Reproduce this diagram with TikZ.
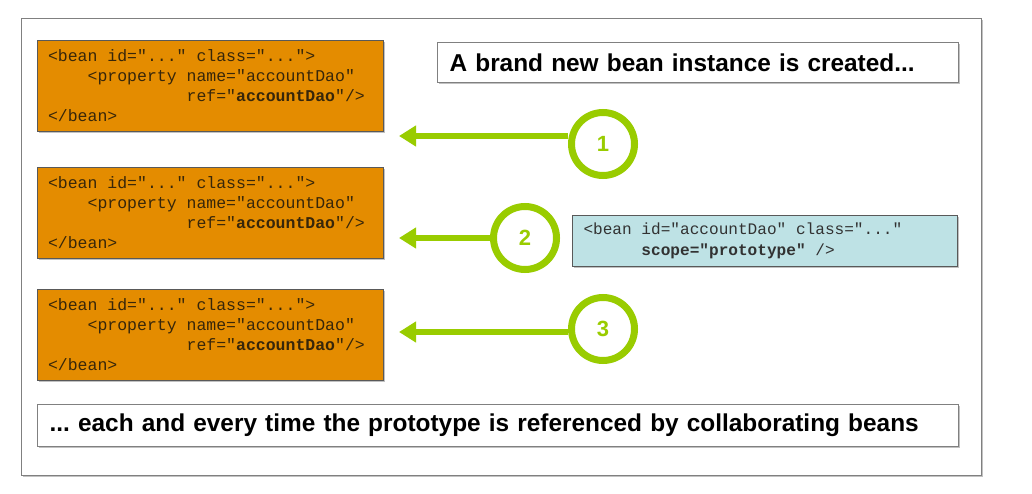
\documentclass[tikz,border=0pt]{standalone}
\usepackage{fontspec}
\setmainfont{Liberation Sans}
\newfontfamily\codefont{Liberation Mono}
\usetikzlibrary{arrows.meta,shadows}
\definecolor{beangreen}{RGB}{153,204,0}
\definecolor{beanorange}{RGB}{228,140,0}
\definecolor{beanblue}{RGB}{190,226,229}
\definecolor{codetext}{RGB}{55,38,10}
\definecolor{bluetext}{RGB}{50,50,50}
\definecolor{framegray}{RGB}{128,128,128}
\protected\def\cind#1{\hspace*{#1\dimexpr 0.6em\relax}}
\protected\def\csp{\hspace*{0.6em}}
\frenchspacing
\begin{document}
\begin{tikzpicture}[x=1pt,y=-1pt,
  shad/.style={drop shadow={shadow xshift=1.5pt,shadow yshift=-1.5pt,opacity=0.4,fill=black!60}},
  codebox/.style={draw=black!65, line width=1pt, fill=beanorange, shad, anchor=north west,
    text width=325pt, inner xsep=10.5pt, inner ysep=0pt, minimum height=91pt, align=left,
    text=codetext, font=\codefont\fontsize{16.5}{20}\selectfont},
  scopebox/.style={draw=black!65, line width=1pt, fill=beanblue, shad, anchor=north west,
    text width=363pt, inner xsep=11pt, inner ysep=0pt, minimum height=51pt, align=left,
    text=bluetext, font=\codefont\fontsize{16.1}{21}\selectfont},
  notebox/.style={draw=framegray, line width=1.2pt, fill=white, shad, anchor=north west,
    inner xsep=12pt, inner ysep=0pt, align=left, text=black,
    font=\bfseries\fontsize{24.4}{28}\selectfont},
  ring/.style={circle, draw=beangreen, line width=7pt, fill=white, minimum size=63pt,
    inner sep=0pt, text=beangreen, font=\bfseries\fontsize{22}{22}\selectfont},
  arr/.style={draw=beangreen, line width=6pt, -{Triangle[length=17pt,width=20pt]}}
]
\useasboundingbox (0,0) rectangle (1032,494);
\node[draw=framegray, line width=1.2pt, fill=white, shad, anchor=north west,
  minimum width=960pt, minimum height=457pt, inner sep=0pt] (frame) at (21,18) {};

\node[codebox] (b1) at (37,40) {<bean\csp id="..."\csp class="...">\\
\cind{4}<property\csp name="accountDao"\\
\cind{14}ref="\textbf{accountDao}"/>\\
</bean>};
\node[codebox] (b2) at (37,167) {<bean\csp id="..."\csp class="...">\\
\cind{4}<property\csp name="accountDao"\\
\cind{14}ref="\textbf{accountDao}"/>\\
</bean>};
\node[codebox] (b3) at (37,289) {<bean\csp id="..."\csp class="...">\\
\cind{4}<property\csp name="accountDao"\\
\cind{14}ref="\textbf{accountDao}"/>\\
</bean>};

\node[notebox, text width=497pt, minimum height=40pt] (top) at (437,42) {A brand new bean instance is created...};
\node[notebox, text width=897pt, minimum height=42pt] (bottom) at (37,404) {... each and every time the prototype is referenced by collaborating beans};

\node[scopebox] (proto) at (572,215) {<bean\csp id="accountDao"\csp class="..."\\
\cind{6}\textbf{scope="prototype"}\csp/>};

\coordinate (t1) at (399,136);
\coordinate (t2) at (399,238);
\coordinate (t3) at (399,332);

\node[ring] (c1) at (603,144) {1};
\node[ring] (c2) at (525,238) {2};
\node[ring] (c3) at (603,329) {3};

\draw[arr] (c1.west |- t1) -- (t1);
\draw[arr] (c2.west |- t2) -- (t2);
\draw[arr] (c3.west |- t3) -- (t3);
\end{tikzpicture}
\end{document}
